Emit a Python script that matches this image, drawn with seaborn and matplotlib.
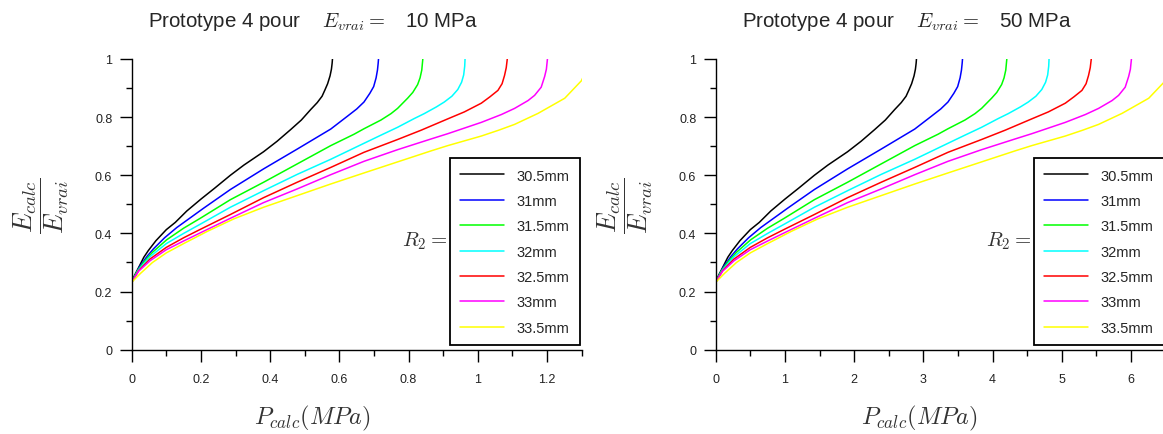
import numpy as np
import pandas as pd
import matplotlib
matplotlib.use("Agg")
import matplotlib.pyplot as plt
from matplotlib.ticker import MultipleLocator, FuncFormatter
import seaborn as sns

# ==========================================
# DATA (P_calc scales with E_vrai)
# ==========================================
e_vrai = [10, 50]
r2_labels = ["30.5mm", "31mm", "31.5mm", "32mm", "32.5mm", "33mm", "33.5mm"]
colors = ["#000000", "#0000ff", "#00ff00", "#00ffff", "#ff0000", "#ff00ff", "#ffff00"]

p_305 = [0, 0.008, 0.018, 0.035, 0.048, 0.07, 0.10, 0.126, 0.159, 0.20, 0.24, 0.285, 0.324,
         0.381, 0.42, 0.459, 0.49, 0.517, 0.536, 0.550, 0.558, 0.566, 0.573, 0.577, 0.579, 0.580]
e_305 = [0.232, 0.255, 0.278, 0.318, 0.341, 0.375, 0.413, 0.438, 0.477, 0.518, 0.556, 0.600, 0.635,
         0.681, 0.717, 0.757, 0.790, 0.826, 0.850, 0.872, 0.893, 0.915, 0.942, 0.965, 0.985, 1.0]

p_31 = [0, 0.012, 0.024, 0.045, 0.063, 0.095, 0.130, 0.208, 0.285, 0.381, 0.478, 0.575,
        0.623, 0.650, 0.671, 0.688, 0.699, 0.706, 0.710, 0.712, 0.713]
e_31 = [0.232, 0.262, 0.288, 0.322, 0.347, 0.385, 0.420, 0.487, 0.551, 0.622, 0.690, 0.759,
        0.803, 0.828, 0.852, 0.882, 0.905, 0.935, 0.962, 0.985, 1.0]

p_315 = [0, 0.015, 0.034, 0.06, 0.101, 0.15, 0.198, 0.285, 0.381, 0.478, 0.575, 0.642,
         0.671, 0.720, 0.749, 0.768, 0.797, 0.812, 0.826, 0.833, 0.838, 0.841]
e_315 = [0.232, 0.268, 0.300, 0.335, 0.378, 0.418, 0.452, 0.516, 0.576, 0.639, 0.702, 0.741,
         0.760, 0.790, 0.812, 0.830, 0.865, 0.885, 0.912, 0.935, 0.962, 1.0]

p_32 = [0, 0.02, 0.053, 0.10, 0.15, 0.20, 0.285, 0.381, 0.478, 0.575, 0.671, 0.720, 0.768,
        0.816, 0.845, 0.880, 0.903, 0.925, 0.942, 0.953, 0.959, 0.962, 0.963]
e_32 = [0.232, 0.275, 0.320, 0.365, 0.400, 0.433, 0.490, 0.547, 0.603, 0.655, 0.710, 0.738, 0.765,
        0.795, 0.812, 0.835, 0.852, 0.872, 0.895, 0.920, 0.945, 0.975, 1.0]

p_325 = [0, 0.02, 0.053, 0.10, 0.15, 0.20, 0.285, 0.381, 0.478, 0.575, 0.671, 0.768, 0.836,
         0.913, 0.961, 1.010, 1.035, 1.058, 1.070, 1.077, 1.082, 1.085]
e_325 = [0.232, 0.272, 0.312, 0.352, 0.385, 0.415, 0.465, 0.523, 0.576, 0.627, 0.679, 0.723, 0.755,
         0.794, 0.818, 0.848, 0.870, 0.892, 0.915, 0.943, 0.970, 1.0]

p_33 = [0, 0.02, 0.053, 0.10, 0.15, 0.20, 0.285, 0.381, 0.478, 0.575, 0.671, 0.768, 0.865,
        0.913, 1.010, 1.068, 1.106, 1.145, 1.164, 1.183, 1.193, 1.198, 1.201]
e_33 = [0.232, 0.270, 0.306, 0.344, 0.374, 0.403, 0.452, 0.506, 0.553, 0.602, 0.648, 0.688, 0.725,
        0.743, 0.782, 0.809, 0.830, 0.857, 0.875, 0.903, 0.940, 0.965, 1.0]

p_335 = [0, 0.025, 0.06, 0.10, 0.15, 0.22, 0.295, 0.381, 0.478, 0.575, 0.671, 0.768,
         0.865, 0.913, 1.010, 1.060, 1.106, 1.174, 1.251, 1.299, 1.325]
e_335 = [0.232, 0.262, 0.300, 0.333, 0.365, 0.408, 0.450, 0.490, 0.530, 0.570, 0.608, 0.646,
         0.684, 0.702, 0.735, 0.755, 0.775, 0.813, 0.865, 0.925, 0.990]

curves_p = [p_305, p_31, p_315, p_32, p_325, p_33, p_335]
curves_e = [e_305, e_31, e_315, e_32, e_325, e_33, e_335]

x_max = [1.3, 6.5]
x_major = [0.2, 1.0]

# ==========================================
# STYLE
# ==========================================
sns.set_style("ticks")
plt.rcParams["font.family"] = ["Liberation Sans", "DejaVu Sans"]
plt.rcParams["mathtext.fontset"] = "cm"

W, H = 1163, 435
fig = plt.figure(figsize=(W / 100, H / 100), dpi=100)

ax_left = [131.7, 715.7]
title_x = [148, 742]
xlabel_x = [312, 919]

for k, ev in enumerate(e_vrai):
    rows = []
    for lab, ps, es in zip(r2_labels, curves_p, curves_e):
        for p, e in zip(ps, es):
            rows.append({"P": p * ev / e_vrai[0], "ratio": e, "R2": lab})
    df = pd.DataFrame(rows)

    ax = fig.add_axes([ax_left[k] / W, 1 - 350.7 / H, 450 / W, 290.7 / H])
    sns.lineplot(data=df, x="P", y="ratio", hue="R2", hue_order=r2_labels,
                 palette=colors, sort=False, estimator=None, linewidth=1.1, ax=ax)

    ax.set_xlim(0, x_max[k])
    ax.set_ylim(0, 1)
    ax.xaxis.set_major_locator(MultipleLocator(x_major[k]))
    ax.xaxis.set_minor_locator(MultipleLocator(x_major[k] / 2))
    ax.yaxis.set_major_locator(MultipleLocator(0.2))
    ax.yaxis.set_minor_locator(MultipleLocator(0.1))
    fmt = FuncFormatter(lambda v, pos: "%g" % round(v, 6))
    ax.xaxis.set_major_formatter(fmt)
    ax.yaxis.set_major_formatter(fmt)
    ax.tick_params(which="major", length=8.5, width=1.0, color="black",
                   labelsize=9, labelcolor="#222222")
    ax.tick_params(axis="x", which="major", pad=8)
    ax.tick_params(axis="y", which="major", pad=5.5)
    ax.tick_params(which="minor", length=4, width=1.0, color="black")
    for side in ["top", "right"]:
        ax.spines[side].set_visible(False)
    for side in ["left", "bottom"]:
        ax.spines[side].set_color("black")
        ax.spines[side].set_linewidth(1.0)
    ax.set_xlabel("")
    ax.set_ylabel("")

    leg = ax.legend(loc="lower right", bbox_to_anchor=(0.996, 0.016), borderaxespad=0,
                    fontsize=10.5, handlelength=3.0, handletextpad=0.9,
                    labelspacing=0.78, borderpad=0.7, frameon=True, fancybox=False,
                    framealpha=1)
    leg.get_frame().set_edgecolor("black")
    leg.get_frame().set_linewidth(1.3)

    ax.text(0.70, 0.375, r"$R_2 =$", transform=ax.transAxes, ha="right",
            va="center", fontsize=15, color="#333333")
    ax.text(-0.2, 0.5, r"$\dfrac{E_{calc}}{E_{vrai}}$", transform=ax.transAxes,
            rotation=90, ha="center", va="center", fontsize=19, color="#333333")
    ax.text((xlabel_x[k] - ax_left[k]) / 450, -0.2315, r"$P_{calc}(MPa)$",
            transform=ax.transAxes, ha="center", va="center", fontsize=17.5,
            color="#333333")

    fig.text(title_x[k] / W, 1 - 22 / H,
             "Prototype 4 pour    $E_{vrai} =$   %d MPa" % ev,
             ha="left", va="center", fontsize=14.8)

fig.savefig("out.png", dpi=100)
